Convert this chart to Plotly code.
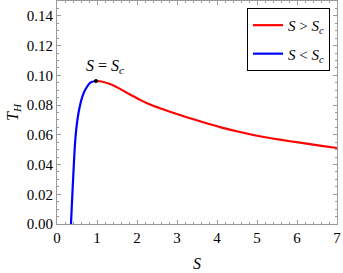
import plotly.graph_objects as go

# Data
S_small = [0.35, 0.3675, 0.4075, 0.45, 0.4925, 0.5575, 0.6425, 0.7425, 0.8425, 0.975]
T_small = [0.0, 0.0107, 0.0328, 0.0540, 0.0663, 0.0775, 0.0864, 0.0920, 0.0953, 0.0962]

S_large = [0.975, 1.075, 1.325, 1.575, 1.825, 2.075, 2.325, 2.575, 3.075, 3.575, 4.075, 4.575, 5.075, 5.575, 6.075, 6.575, 7.0]
T_large = [0.0962, 0.0960, 0.0942, 0.0909, 0.0871, 0.0835, 0.0804, 0.0779, 0.0733, 0.0691, 0.0652, 0.0619, 0.0590, 0.0567, 0.0547, 0.0527, 0.0511]

S_crit = [0.975]
T_crit = [0.0962]

x_ticks = [0, 1, 2, 3, 4, 5, 6, 7]
y_ticks = [0.00, 0.02, 0.04, 0.06, 0.08, 0.10, 0.12, 0.14]

FONT = "Liberation Serif"
FRAME = "#9a9a9a"

fig = go.Figure()
fig.add_trace(go.Scatter(x=S_large, y=T_large, mode="lines",
                         line=dict(color="#ff0000", width=2.2, shape="spline", smoothing=0.8),
                         name="<i>S</i> > <i>S</i><sub><i>c</i></sub>", legendgroup="a"))
fig.add_trace(go.Scatter(x=S_small, y=T_small, mode="lines",
                         line=dict(color="#0000ff", width=2.2, shape="spline", smoothing=0.8),
                         name="<i>S</i> < <i>S</i><sub><i>c</i></sub>", legendgroup="b"))
fig.add_trace(go.Scatter(x=S_crit, y=T_crit, mode="markers", marker=dict(color="black", size=4),
                         showlegend=False))

fig.add_annotation(x=S_crit[0], y=T_crit[0], text="<i>S</i> = <i>S</i><sub><i>c</i></sub>", showarrow=False,
                   yshift=14, xshift=9, font=dict(family=FONT, size=16, color="black"))

axis_common = dict(showgrid=False, zeroline=False, showline=True, linecolor=FRAME, linewidth=1,
                   mirror="ticks", ticks="inside", ticklen=4, tickcolor=FRAME,
                   ticklabeloverflow="allow",
                   tickfont=dict(family=FONT, size=15, color="black"))

fig.update_layout(
    width=343, height=273,
    margin=dict(l=57, r=6, t=1, b=49),
    plot_bgcolor="white", paper_bgcolor="white",
    font=dict(family=FONT, size=15, color="black"),
    xaxis=dict(range=[0, 7], tickvals=x_ticks, ticktext=[str(v) for v in x_ticks],
               minor=dict(dtick=0.2, ticks="inside", ticklen=2, tickcolor=FRAME),
               title=dict(text="<i>S</i>", font=dict(family=FONT, size=16), standoff=12), **axis_common),
    yaxis=dict(range=[0, 0.15], tickvals=y_ticks, ticktext=["%.2f" % v for v in y_ticks],
               minor=dict(dtick=0.005, ticks="inside", ticklen=2, tickcolor=FRAME),
               title=dict(text="<i>T<sub>H</sub></i>", font=dict(family=FONT, size=16), standoff=4), **axis_common),
    legend=dict(x=0.975, y=0.969, xanchor="right", yanchor="top", bordercolor="black", borderwidth=1,
                bgcolor="white", font=dict(family=FONT, size=15), tracegroupgap=6),
)

fig.write_html("out.html", config={"displayModeBar": False},
               post_script="document.body.style.margin='0';document.body.style.overflow='hidden';")
